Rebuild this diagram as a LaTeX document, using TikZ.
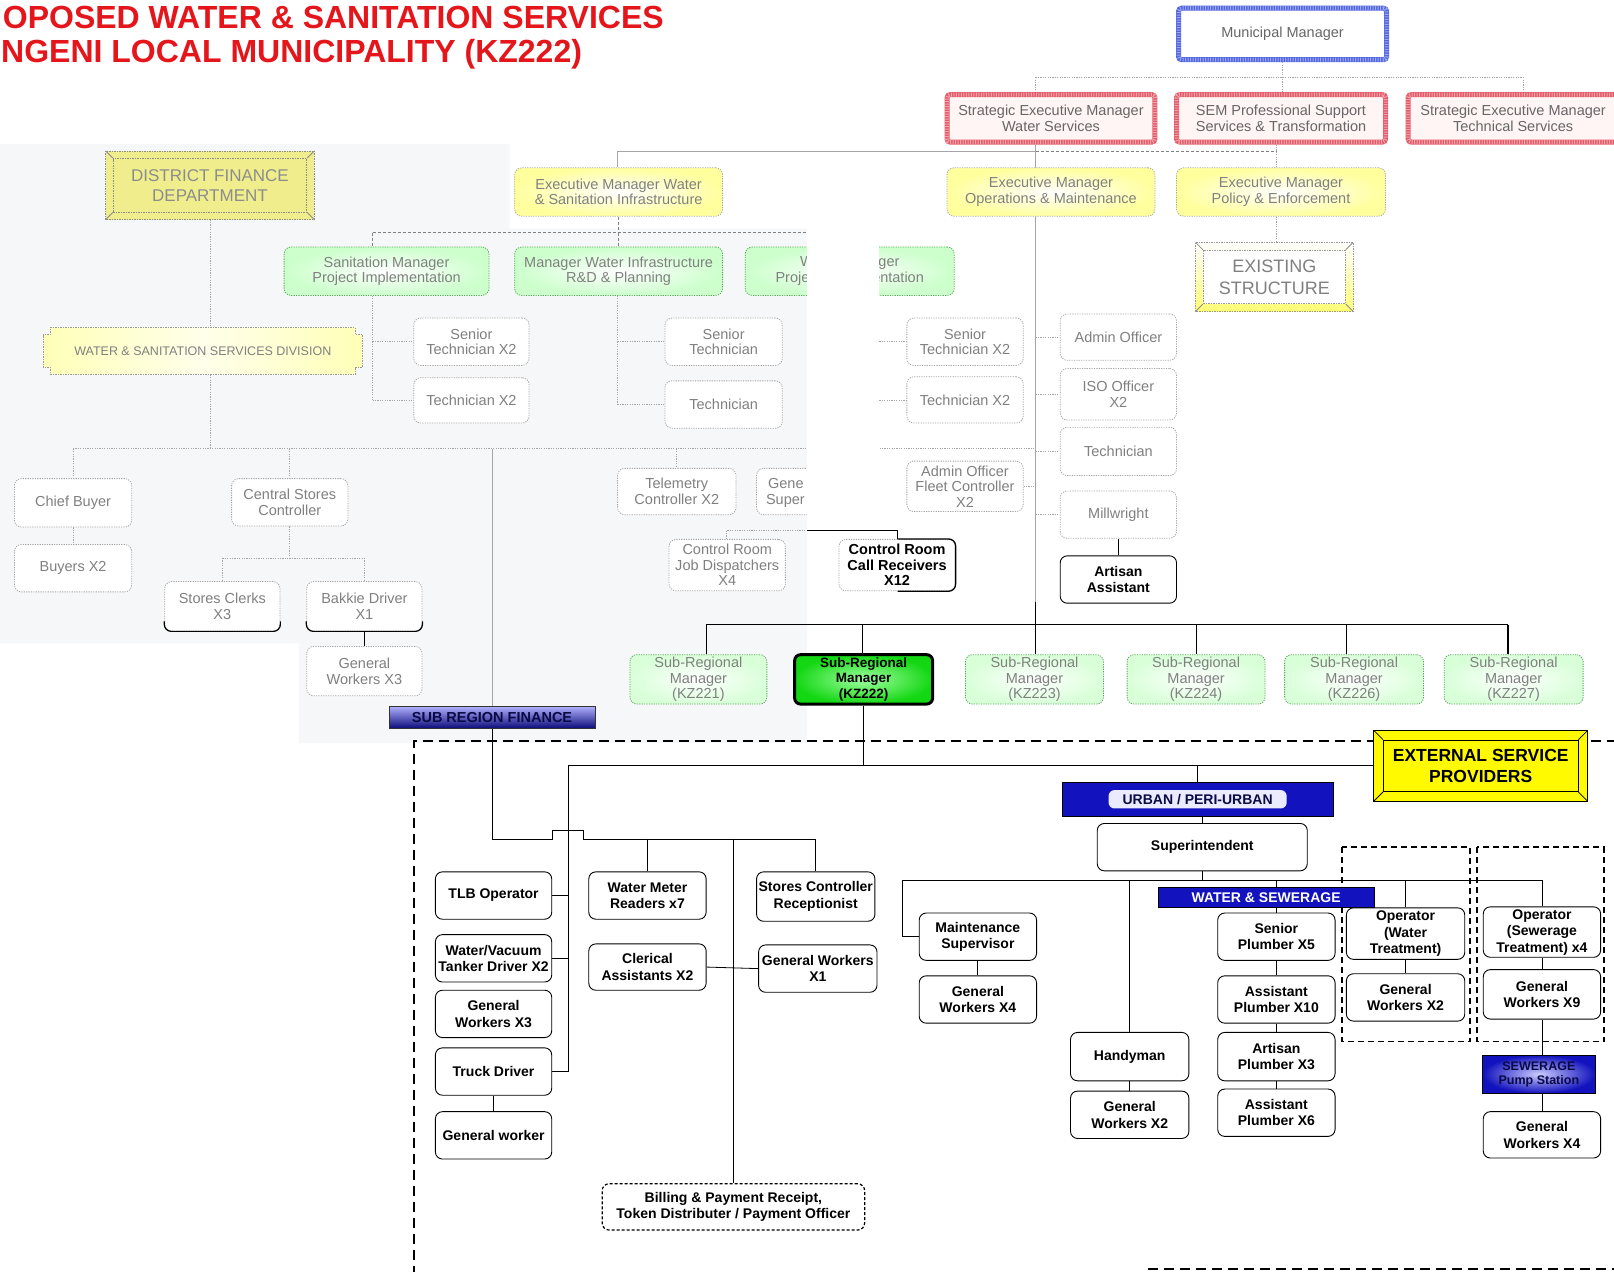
\documentclass[tikz,border=0pt]{standalone}
\usepackage{fontspec}
\setmainfont{Liberation Sans}
\usetikzlibrary{calc}

\definecolor{titlered}{RGB}{228,22,28}
\definecolor{bggray}{RGB}{246,247,248}
\definecolor{mmblue}{RGB}{80,100,225}
\definecolor{semred}{RGB}{228,90,105}
\definecolor{dfdyel}{RGB}{240,238,140}
\definecolor{espyel}{RGB}{255,250,0}
\definecolor{bannerblue}{RGB}{18,18,190}
\definecolor{deepblue}{RGB}{8,8,120}
\definecolor{navy}{RGB}{10,10,70}
\definecolor{kzgreen}{RGB}{20,215,20}
\definecolor{kzlight}{RGB}{160,255,160}
\definecolor{fadetext}{RGB}{128,128,128}
\definecolor{fadeline}{RGB}{165,165,165}

\newcommand\txtfade{\fontsize{14.5}{15.5}\selectfont}
\newcommand\txtbold{\fontsize{14}{16.5}\selectfont\bfseries}

\pgfdeclarelayer{back}
\pgfdeclarelayer{lines}
\pgfdeclarelayer{frames}
\pgfdeclarelayer{fore}
\pgfsetlayers{back,lines,frames,main,fore}

% box from its corners: style, name, x1, y1, x2, y2, text
\newcommand\bx[7]{%
  \pgfmathsetmacro\boxW{(#5-#3)*1.0293}%
  \pgfmathsetmacro\boxH{(#6-#4)*1.0293}%
  \node[#1, minimum width=\boxW pt, minimum height=\boxH pt] (#2) at ({(#3+#5)/2},{(#4+#6)/2}) {#7};}

\tikzset{
  gbox/.style={rectangle, rounded corners=7pt, draw=fadeline, dash pattern=on 1.2pt off 1.2pt,
    line width=0.8pt, fill=white, text=fadetext, font=\txtfade, align=center, inner sep=1pt},
  kbox/.style={rectangle, rounded corners=7pt, draw=black, line width=0.9pt, fill=white,
    text=black, font=\txtbold, align=center, inner sep=1pt},
  grbox/.style={gbox, inner color=white, outer color=green!20, draw=green!35!gray},
  ybox/.style={gbox, inner color=white, outer color=yellow!38, draw=gray!70},
  kzbox/.style={gbox, inner color=white, outer color=green!15, draw=green!30!gray},
  kzsel/.style={rectangle, rounded corners=6pt, draw=black, line width=3pt, inner color=kzlight,
    outer color=kzgreen, text=black, font=\fontsize{13.5}{15.5}\selectfont\bfseries, align=center, inner sep=1pt},
  mmbox/.style={rectangle, rounded corners=3pt, fill=white, draw=mmblue, line width=5pt,
    text=black!60, font=\txtfade, align=center, inner sep=1pt,
    postaction={draw=white, line width=4pt, dash pattern=on 1pt off 1.5pt, opacity=0.45}},
  sembox/.style={mmbox, draw=semred, fill=red!4},
  dfdbox/.style={rectangle, fill=dfdyel, draw=black!45, line width=0.8pt, dash pattern=on 1.5pt off 1pt,
    text=black!45, font=\fontsize{17}{20}\selectfont, align=center, inner sep=1pt},
  exbox/.style={rectangle, fill=white, draw=black!40, line width=0.8pt, dash pattern=on 1.5pt off 1pt,
    text=black!50, font=\fontsize{18}{22}\selectfont, align=center, inner sep=1pt},
  espbox/.style={rectangle, fill=espyel, draw=black, line width=0.8pt, text=black,
    font=\fontsize{17.5}{21}\selectfont\bfseries, align=center, inner sep=1pt},
  wstext/.style={rectangle, draw=none, text=black!50, font=\fontsize{12.5}{14}\selectfont, inner sep=1pt},
  srfbox/.style={rectangle, draw=black!80, line width=0.8pt, top color=blue!30, bottom color=deepblue,
    text=navy, font=\fontsize{14.5}{16}\selectfont\bfseries, inner sep=0pt},
  banner/.style={rectangle, draw=black, line width=1pt, fill=bannerblue, text=white,
    font=\fontsize{14}{15}\selectfont\bfseries, inner sep=0pt},
  urbin/.style={rectangle, rounded corners=6pt, fill=blue!8, text=navy,
    font=\fontsize{14}{15}\selectfont\bfseries, inner xsep=14pt, inner ysep=4pt},
  spsbox/.style={rectangle, draw=black, line width=1pt, inner color=blue!20, outer color=bannerblue,
    text=navy, font=\fontsize{12.5}{14}\selectfont\bfseries, align=center, inner sep=0pt},
  billbox/.style={kbox, dash pattern=on 3pt off 2pt, line width=1.2pt},
  frag/.style={text=fadetext, font=\txtfade, inner sep=0pt},
  gdot/.style={draw=fadeline, line width=0.7pt, dash pattern=on 1.2pt off 1.2pt},
  gdash/.style={draw=black!50, line width=0.8pt, dash pattern=on 3pt off 2pt},
  gsol/.style={draw=fadeline, line width=0.7pt},
  blk/.style={draw=black, line width=0.8pt},
  blkm/.style={draw=black, line width=1.2pt},
  bigdash/.style={draw=black, line width=2.4pt, dash pattern=on 10pt off 6pt},
  meddash/.style={draw=black, line width=1.6pt, dash pattern=on 6pt off 4pt}
}

\begin{document}
\begin{tikzpicture}[x=1.0293pt, y=-1.0293pt]
\useasboundingbox (0,0) rectangle (1568,1235);

% light backdrop behind the district-side chart
\begin{pgfonlayer}{back}
  \fill[bggray] (0,140) -- (495,140) -- (495,222) -- (784,222) -- (784,722)
     -- (290,722) -- (290,625) -- (0,625) -- cycle;
\end{pgfonlayer}

% title
\node[anchor=east, inner sep=0pt, text=titlered, font=\fontsize{32}{36}\selectfont\bfseries] (ttl1)
  at (645,17) {OPOSED WATER \& SANITATION SERVICES};
\node[anchor=west, inner sep=0pt, text=titlered, font=\fontsize{32}{36}\selectfont\bfseries] (ttl2)
  at (1,53) {NGENI LOCAL MUNICIPALITY (KZ222)};

% top management
\bx{mmbox}{mm}{1145}{8}{1347}{58}{Municipal Manager}
\bx{sembox}{sem1}{920}{92}{1122}{138}{Strategic Executive Manager\\Water Services}
\bx{sembox}{sem2}{1143}{92}{1346}{138}{SEM Professional Support\\Services \& Transformation}
\bx{sembox}{sem3}{1368}{92}{1572}{138}{Strategic Executive Manager\\Technical Services}

\bx{ybox}{emwsi}{500}{163}{702}{210}{Executive Manager Water\\\& Sanitation Infrastructure}
\bx{ybox}{emom}{920}{163}{1122}{210}{Executive Manager\\Operations \& Maintenance}
\bx{ybox}{empe}{1143}{163}{1346}{210}{Executive Manager\\Policy \& Enforcement}
\bx{exbox}{exst}{1169}{243}{1307}{295}{EXISTING\\STRUCTURE}

\bx{dfdbox}{dfd}{110}{154}{298}{206}{DISTRICT FINANCE\\DEPARTMENT}
\bx{wstext}{wssd}{42}{318}{352}{364}{WATER \& SANITATION SERVICES DIVISION}

% managers
\bx{grbox}{sanm}{276}{240}{475}{287}{Sanitation Manager\\Project Implementation}
\bx{grbox}{mwi}{500}{240}{702}{287}{Manager Water Infrastructure\\R\&D \& Planning}
\bx{grbox}{wmp}{724}{240}{927}{287}{Water Manager\\Project Implementation}

\bx{gbox}{st1}{402}{309}{514}{355}{Senior\\Technician X2}
\bx{gbox}{tc1}{402}{367}{514}{411}{Technician X2}
\bx{gbox}{st2}{646}{309}{760}{355}{Senior\\Technician}
\bx{gbox}{tc2}{646}{370}{760}{416}{Technician}
\bx{gbox}{st3}{881}{309}{994}{355}{Senior\\Technician X2}
\bx{gbox}{tc3}{881}{366}{994}{411}{Technician X2}
\bx{gbox}{afc}{881}{448}{994}{497}{Admin Officer\\Fleet Controller\\X2}

\bx{gbox}{ao}{1030}{305}{1143}{350}{Admin Officer}
\bx{gbox}{iso}{1030}{358}{1143}{408}{ISO Officer\\X2}
\bx{gbox}{tec}{1030}{415}{1143}{462}{Technician}
\bx{gbox}{mw}{1030}{477}{1143}{523}{Millwright}
\bx{kbox}{aa}{1030}{540}{1143}{586}{Artisan\\Assistant}

% finance side
\bx{gbox}{cb}{14}{465}{128}{512}{Chief Buyer}
\bx{gbox}{buy}{14}{529}{128}{575}{Buyers X2}
\bx{gbox}{csc}{225}{465}{338}{511}{Central Stores\\Controller}
\bx{gbox}{scl}{160}{565}{272}{613}{Stores Clerks\\X3}
\bx{gbox}{bd}{298}{565}{410}{613}{Bakkie Driver\\X1}
\bx{gbox}{gw3}{298}{628}{410}{676}{General\\Workers X3}
\draw[blk, line width=1.2pt, rounded corners=7pt] ([yshift=10pt]scl.south west) |- (scl.south) -| ([yshift=10pt]scl.south east);
\draw[blk, line width=1.2pt, rounded corners=7pt] ([yshift=10pt]bd.south west) |- (bd.south) -| ([yshift=10pt]bd.south east);

% control room
\bx{gbox}{tel}{600}{455}{715}{500}{Telemetry\\Controller X2}
\bx{gbox}{gs}{735}{455}{848}{500}{}
\node[frag, anchor=west] (gs1) at (746,470) {Gene};
\node[frag, anchor=west] (gs2) at (744,487) {Super};
\bx{gbox}{crj}{650}{524}{763}{574}{Control Room\\Job Dispatchers\\X4}
\bx{gbox}{crc}{815}{524}{928}{574}{\textcolor{black}{\bfseries Control Room}\\\textcolor{black}{\bfseries Call Receivers}\\\textcolor{black}{\bfseries X12}}
\begin{scope}
  \clip (872,500) rectangle (940,590);
  \draw[blk, line width=1.3pt, rounded corners=7pt] (crc.north west) rectangle (crc.south east);
\end{scope}

% sub-regional managers
\bx{kzbox}{kz221}{612}{636}{745}{684}{Sub-Regional\\Manager\\(KZ221)}
\bx{kzsel}{kz222}{772}{636}{906}{684}{Sub-Regional\\Manager\\(KZ222)}
\bx{kzbox}{kz223}{938}{636}{1072}{684}{Sub-Regional\\Manager\\(KZ223)}
\bx{kzbox}{kz224}{1095}{636}{1229}{684}{Sub-Regional\\Manager\\(KZ224)}
\bx{kzbox}{kz226}{1248}{636}{1383}{684}{Sub-Regional\\Manager\\(KZ226)}
\bx{kzbox}{kz227}{1403}{636}{1538}{684}{Sub-Regional\\Manager\\(KZ227)}

\bx{srfbox}{srf}{378}{686}{578}{708}{SUB REGION FINANCE}

% KZ222 structure
\bx{espbox}{esp}{1344}{719}{1533}{769}{EXTERNAL SERVICE\\PROVIDERS}
\bx{banner}{urb}{1032}{760}{1295}{793}{}
\node[urbin] (urbt) at (urb.center) {URBAN / PERI-URBAN};
\bx{kbox}{sup}{1066}{800}{1270}{846}{Superintendent}
\bx{banner}{ws}{1125}{862}{1335}{882}{WATER \& SEWERAGE}

\bx{kbox}{tlb}{423}{847}{536}{893}{TLB Operator}
\bx{kbox}{wvt}{423}{908}{536}{954}{Water/Vacuum\\Tanker Driver X2}
\bx{kbox}{gwx3}{423}{962}{536}{1008}{General\\Workers X3}
\bx{kbox}{trk}{423}{1018}{536}{1064}{Truck Driver}
\bx{kbox}{gwk}{423}{1080}{536}{1126}{General worker}
\bx{kbox}{wmr}{572}{847}{686}{893}{Water Meter\\Readers x7}
\bx{kbox}{cla}{572}{917}{686}{962}{Clerical\\Assistants X2}
\bx{kbox}{scr}{735}{847}{850}{895}{Stores Controller\\Receptionist}
\bx{kbox}{gwx1}{737}{918}{852}{964}{General Workers\\X1}
\bx{billbox}{bill}{585}{1150}{840}{1195}{Billing \& Payment Receipt,\\Token Distributer / Payment Officer}

\bx{kbox}{ms}{893}{887}{1007}{933}{Maintenance\\Supervisor}
\bx{kbox}{gwx4a}{893}{948}{1007}{994}{General\\Workers X4}
\bx{kbox}{hm}{1040}{1003}{1155}{1050}{Handyman}
\bx{kbox}{gwx2a}{1040}{1060}{1155}{1106}{General\\Workers X2}
\bx{kbox}{sp5}{1183}{887}{1297}{933}{Senior\\Plumber X5}
\bx{kbox}{ap10}{1183}{948}{1297}{994}{Assistant\\Plumber X10}
\bx{kbox}{ap3}{1183}{1003}{1297}{1050}{Artisan\\Plumber X3}
\bx{kbox}{ap6}{1183}{1058}{1297}{1104}{Assistant\\Plumber X6}
\bx{kbox}{owt}{1308}{882}{1423}{932}{Operator\\(Water\\Treatment)}
\bx{kbox}{gwx2b}{1308}{946}{1423}{992}{General\\Workers X2}
\bx{kbox}{ost}{1441}{881}{1555}{930}{Operator\\(Sewerage\\Treatment) x4}
\bx{kbox}{gwx9}{1441}{942}{1555}{990}{General\\Workers X9}
\bx{spsbox}{sps}{1440}{1025}{1550}{1062}{SEWERAGE\\Pump Station}
\bx{kbox}{gwx4b}{1441}{1080}{1555}{1125}{General\\Workers X4}

% bevelled frames and ribbon shape
\begin{pgfonlayer}{frames}
  \draw[fill=dfdyel, draw=black!45, line width=0.8pt, dash pattern=on 1.5pt off 1pt]
    ([shift={(-7,-7)}]dfd.north west) rectangle ([shift={(7,7)}]dfd.south east);
  \foreach \c/\dx/\dy in {north west/-7/-7, north east/7/-7, south west/-7/7, south east/7/7}
    \draw[black!45, line width=0.8pt] (dfd.\c) -- ++(\dx,\dy);
  \path[top color=white, bottom color=yellow!55]
    ([shift={(-7,-7)}]exst.north west) rectangle ([shift={(7,7)}]exst.south east);
  \draw[black!40, line width=0.8pt, dash pattern=on 1.5pt off 1pt]
    ([shift={(-7,-7)}]exst.north west) rectangle ([shift={(7,7)}]exst.south east);
  \foreach \c/\dx/\dy in {north west/-7/-7, north east/7/-7, south west/-7/7, south east/7/7}
    \draw[black!45, line width=0.8pt] (exst.\c) -- ++(\dx,\dy);
  \draw[fill=espyel, draw=black, line width=1.4pt]
    ([shift={(-9,-9)}]esp.north west) rectangle ([shift={(9,9)}]esp.south east);
  \foreach \c/\dx/\dy in {north west/-9/-9, north east/9/-9, south west/-9/9, south east/9/9}
    \draw[black, line width=0.8pt] (esp.\c) -- ++(\dx,\dy);
  \draw[left color=yellow!28, right color=yellow!28, middle color=yellow!8, draw=black!40, line width=0.8pt,
    dash pattern=on 1.5pt off 1pt]
    (49,318) -- (345,318) -- (345,325) -- (352,325) -- (352,357) -- (345,357) -- (345,364)
    -- (49,364) -- (49,357) -- (42,357) -- (42,325) -- (49,325) -- cycle;
\end{pgfonlayer}

% connectors
\begin{pgfonlayer}{lines}
  % municipal manager to the strategic executive managers
  \coordinate (tbL) at (1006,75); \coordinate (tbM) at (1246,75); \coordinate (tbR) at (1480,75);
  \draw[gdot] (tbL) -- (tbR);
  \draw[gdot] (mm.south -| tbM) -- (tbM) -- (tbM |- sem2.north);
  \draw[gdot] (tbL) -- (tbL |- sem1.north);
  \draw[gdot] (tbR) -- (tbR |- sem3.north);
  % executive managers
  \coordinate (vA) at (1006,147); \coordinate (bL) at (600,147); \coordinate (bR) at (1240,147);
  \draw[gsol] (vA |- sem1.south) -- (vA);
  \draw[gsol] (bL) -- (vA);
  \draw[gdash] (vA) -- (bR);
  \draw[gdot] (bR |- sem2.south) -- (bR |- empe.north);
  \draw[gsol] (bL) -- (bL |- emwsi.north);
  \draw[gdot] (bR |- empe.south) -- (bR |- exst.north);
  % operations trunk down to the sub-regional managers
  \coordinate (vB) at (1006,585);
  \draw[gsol] (vA) -- (vB);
  \draw[blkm] (vB) -- (vB |- kz223.north);
  % infrastructure managers
  \coordinate (gL) at (362,226); \coordinate (gR) at (784,226);
  \draw[gdash] (emwsi.south) -- (emwsi.south |- gL);
  \draw[gdash] (gL) -- (gR);
  \draw[gdash] (gL) -- (gL |- sanm.north);
  \draw[gdash] (mwi.north |- gL) -- (mwi.north);
  \coordinate (sA) at (362,389);
  \draw[gdot] (sA |- sanm.south) -- (sA);
  \draw[gdot] (sA |- st1.west) -- (st1.west);
  \draw[gdot] (sA) -- (tc1.west);
  \coordinate (mA) at (600,393);
  \draw[gdot] (mA |- mwi.south) -- (mA);
  \draw[gdot] (mA |- st2.west) -- (st2.west);
  \draw[gdot] (mA) -- (tc2.west);
  \coordinate (wA) at (852,389);
  \draw[gdot] (wA |- wmp.south) -- (wA);
  \draw[gdot] (wA |- st3.west) -- (st3.west);
  \draw[gdot] (wA |- tc3.west) -- (tc3.west);
  % district finance branch
  \coordinate (lL) at (71,436); \coordinate (lR) at (1006,436);
  \draw[gdot] (lL) -- (lR);
  \draw[gdot] (dfd.south) -- (dfd.south |- wssd.north);
  \draw[gdot] (dfd.south |- wssd.south) -- (dfd.south |- lL);
  \draw[gdot] (lL) -- (lL |- cb.north);
  \draw[gdot] (cb.south) -- (buy.north);
  \draw[gdot] (csc.north |- lL) -- (csc.north);
  \coordinate (cL) at (216,542); \coordinate (cR) at (354,542);
  \draw[gdot] (csc.south) -- (csc.south |- cL);
  \draw[gdot] (cL) -- (cR);
  \draw[gdot] (cL) -- (cL |- scl.north);
  \draw[gdot] (cR) -- (cR |- bd.north);
  \draw[blk] (bd.south) -- (gw3.north);
  \draw[gsol] (srf.north |- lL) -- (srf.north);
  \draw[gdot] (tel.north |- lL) -- (tel.north);
  \draw[gdot] (afc.east) -- (afc.east -| lR);
  % operations staff
  \draw[gdot] (ao.west -| lR) -- (ao.west);
  \draw[gdot] (iso.west -| lR) -- (iso.west);
  \draw[gdot] (tec.west -| lR) -- (tec.west);
  \draw[gdot] (mw.west -| lR) -- (mw.west);
  \draw[blk] (mw.south) -- (aa.north);
  % control room
  \coordinate (rL) at (706,515); \coordinate (rM) at (784,515); \coordinate (rR) at (872,515);
  \draw[gdot] (rL |- crj.north) -- (rL) -- (rM);
  \draw[blk] (rM) -- (rR) -- (rR |- crc.north);
  % sub-regional bus
  \coordinate (s1) at (686,607); \coordinate (s2) at (838,607); \coordinate (s4) at (1162,607);
  \coordinate (s5) at (1308,607); \coordinate (s6) at (1465,607);
  \draw[blkm] (s1) -- (s6);
  \draw[blkm] (s1) -- (s1 |- kz221.north);
  \draw[blkm] (s2) -- (s2 |- kz222.north);
  \draw[blkm] (s4) -- (s4 |- kz224.north);
  \draw[blkm] (s5) -- (s5 |- kz226.north);
  \draw[blkm] (s6) -- (s6 |- kz227.north);
  % KZ222 structure
  \coordinate (hL) at (552,744);
  \draw[blk] (kz222.south) -- (kz222.south |- hL);
  \draw[blk] (hL) -- (hL -| esp.west);
  \draw[blk] (urb.north |- hL) -- (urb.north);
  \draw[blk] (sup.north |- urb.south) -- (sup.north);
  \coordinate (wL) at (877,855); \coordinate (wR) at (1498,855);
  \draw[blk] (sup.south) -- (sup.south |- wL);
  \draw[blk] (wL) -- (wR);
  \draw[blk] (wL) |- (ms.west);
  \draw[blk] (ms.south) -- (gwx4a.north);
  \draw[blk] (hm.north |- wL) -- (hm.north);
  \draw[blk] (hm.south) -- (gwx2a.north);
  \draw[blk] (sp5.north |- wL) -- (sp5.north);
  \draw[blk] (sp5.south) -- (ap10.north);
  \draw[blk] (ap10.south) -- (ap3.north);
  \draw[blk] (ap3.south) -- (ap6.north);
  \draw[blk] (owt.north |- wL) -- (owt.north);
  \draw[blk] (owt.south) -- (gwx2b.north);
  \draw[blk] (wR) -- (wR |- ost.north);
  \draw[blk] (ost.south) -- (gwx9.north);
  \draw[blk] (gwx9.south) -- (sps.north -| gwx9.south);
  \draw[blk] (sps.south -| gwx4b.north) -- (gwx4b.north);
  % plant and transport column
  \draw[blk] (hL) -- (hL |- trk.east);
  \draw[blk] (tlb.east) -- (tlb.east -| hL);
  \draw[blk] (wvt.east) -- (wvt.east -| hL);
  \draw[blk] (trk.east) -- (trk.east -| hL);
  \draw[blk] (trk.south) -- (gwk.north);
  % sub-region finance branch, hopping over the column line
  \coordinate (fL) at (478,815);
  \draw[blk] (srf.south) -- (srf.south |- fL);
  \draw[blk] (srf.south |- fL) -- (537,815) -- (537,807) -- (567,807) -- (567,815) -- (scr.north |- fL);
  \draw[blk] (wmr.north |- fL) -- (wmr.north);
  \draw[blk] (bill.north |- fL) -- (bill.north);
  \draw[blk] (scr.north |- fL) -- (scr.north);
  \draw[blk] (cla.east) -- (gwx1.west);
  % service boundary
  \coordinate (f1) at (402,1240); \coordinate (f2) at (402,720); \coordinate (f3) at (1575,720);
  \draw[bigdash] (f1) -- (f2) -- (f3);
  \coordinate (f4) at (1115,1233); \coordinate (f5) at (1575,1233);
  \draw[bigdash] (f4) -- (f5);
  \draw[meddash] (1304,823) rectangle (1428,1012);
  \draw[meddash] (1435,823) rectangle (1558,1012);
\end{pgfonlayer}

% blank band across the middle of the upper chart
\begin{pgfonlayer}{fore}
  \fill[white] (784,232) rectangle (854,508);
\end{pgfonlayer}
\end{tikzpicture}
\end{document}
